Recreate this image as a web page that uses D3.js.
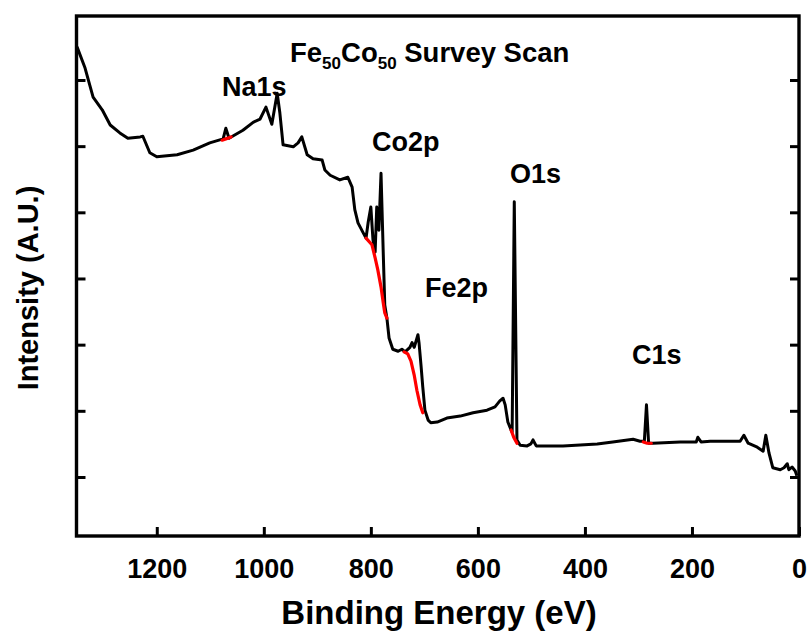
<!DOCTYPE html>
<html><head><meta charset="utf-8">
<script src="https://cdn.jsdelivr.net/npm/d3@7"></script>
<style>body{margin:0;background:#fff}svg{display:block}text{font-family:"Liberation Sans",Arial,sans-serif;font-weight:bold;fill:#000}</style>
</head><body>
<script>
// Binding energy (eV) and intensity (arbitrary units) of the survey spectrum
const energy = [1349,1334,1319,1302,1287,1269,1254,1231,1226,1213,1200,1162,1132,1101,1076,1071,1065,1039,1020,1007,996,985,975,970,964,945,936,929,919,908,891,886,876,858,843,835,830,824,815,809,805,800,796,792,789,785,781,777,774,770,766,759,749,742,736,727,723,719,716,712,710,706,703,699,693,688,676,658,633,609,583,568,559,553,549,544,538,536,532,527,521,508,501,497,491,441,377,348,310,297,289,285,281,273,222,192,189,183,166,110,103,95,78,67,62,56,49,35,28,22,19,13,7,4];
const intensity = [75.0,71.8,67.4,65.5,63.2,62.0,61.2,61.4,61.5,59.0,58.4,58.7,59.4,60.5,61.1,62.7,61.2,62.4,63.6,64.1,65.9,63.3,68.0,65.0,60.2,59.9,60.5,61.4,58.7,58.1,57.9,56.4,55.6,54.9,55.3,53.8,50.4,48.4,47.0,46.1,48.5,50.8,45.8,44.0,50.8,47.3,55.9,44.3,36.0,34.0,31.0,29.3,29.0,29.3,28.9,29.6,30.3,29.6,30.4,31.5,30.3,26.6,23.6,20.1,18.6,18.2,18.3,18.9,19.2,19.7,20.1,20.6,21.5,21.9,20.9,18.3,17.1,16.8,51.6,15.6,14.8,14.7,15.0,15.6,14.7,14.7,15.0,15.3,15.7,15.4,15.4,20.9,15.1,15.1,15.3,15.3,16.0,15.3,15.4,15.4,16.3,15.1,14.5,13.9,16.3,13.6,11.4,11.1,11.4,12.0,11.1,11.5,10.9,10.2];
// Background (fit) segments under the peaks
const bgNa = {energy:[1078,1071,1061], intensity:[60.9,61.1,61.4]};
const bgCo = {energy:[809,798,792,787,781,777,774,770], intensity:[46.1,45.1,43.1,41.3,38.7,36.4,34.8,34.0]};
const bgFe = {energy:[738,731,725,719,714,708,703], intensity:[28.9,28.6,27.5,25.4,23.1,20.9,19.7]};
const bgO  = {energy:[538,533,527], intensity:[17.1,16.0,15.1]};
const bgC  = {energy:[291,284,276], intensity:[15.3,15.1,15.1]};
const xTicks = [1200,1000,800,600,400,200,0];
const yTicks = [10,20,30,40,50,60,70];
const peakNames = ["Na1s","Co2p","Fe2p","O1s","C1s"];
const peakLabelE = [1078,798,699,540,312];
const peakLabelI = [67.6,59.3,37.2,54.4,27.1];

const W=809,H=640;
const m={left:76.5,right:10,top:16,bottom:104};
const svg=d3.select("body").append("svg").attr("width",W).attr("height",H);
const x=d3.scaleLinear().domain([1350,0]).range([m.left,W-m.right]);
const y=d3.scaleLinear().domain([1.08,79.67]).range([H-m.bottom,m.top]);

const line=d3.line().x(d=>x(d[0])).y(d=>y(d[1]));
const pts=energy.map((e,i)=>[e,intensity[i]]);
svg.append("path").datum(pts).attr("d",line).attr("fill","none").attr("stroke","#000").attr("stroke-width",3).attr("stroke-linejoin","round");
[bgNa,bgCo,bgFe,bgO,bgC].forEach(b=>{
  svg.append("path").datum(b.energy.map((e,i)=>[e,b.intensity[i]])).attr("d",line)
    .attr("fill","none").attr("stroke","#ff0000").attr("stroke-width",3.2).attr("stroke-linecap","round");
});

// axes
const gx=svg.append("g").attr("transform",`translate(0,${H-m.bottom})`)
  .call(d3.axisBottom(x).tickValues(xTicks).tickSize(-9).tickPadding(23).tickFormat(d3.format("d")));
const gy=svg.append("g").attr("transform",`translate(${m.left},0)`)
  .call(d3.axisLeft(y).tickValues(yTicks).tickSize(-9).tickFormat(""));
const gr=svg.append("g").attr("transform",`translate(${W-m.right},0)`)
  .call(d3.axisRight(y).tickValues(yTicks).tickSize(-9).tickFormat(""));
[gx,gy,gr].forEach(g=>{g.select(".domain").remove();g.selectAll("line").attr("stroke","#000").attr("stroke-width",3);});
gx.selectAll("text").attr("font-size",27).style("font-family","'Liberation Sans',Arial,sans-serif").style("font-weight","bold");

svg.append("rect").attr("x",m.left).attr("y",m.top).attr("width",W-m.right-m.left).attr("height",H-m.bottom-m.top)
  .attr("fill","none").attr("stroke","#000").attr("stroke-width",3.4);

// titles
svg.append("text").attr("x",439).attr("y",624).attr("text-anchor","middle").attr("font-size",33).text("Binding Energy (eV)");
svg.append("text").attr("transform","translate(38,288) rotate(-90)").attr("text-anchor","middle").attr("font-size",29).text("Intensity (A.U.)");
const t=svg.append("text").attr("x",290).attr("y",62).attr("font-size",27.5);
t.append("tspan").text("Fe");
t.append("tspan").attr("font-size",17).attr("dy",7).text("50");
t.append("tspan").attr("dy",-7).text("Co");
t.append("tspan").attr("font-size",17).attr("dy",7).text("50");
t.append("tspan").attr("dy",-7).text(" Survey Scan");

peakNames.forEach((n,i)=>{
  svg.append("text").attr("x",x(peakLabelE[i])).attr("y",y(peakLabelI[i])).attr("font-size",27).text(n);
});
</script>
</body></html>
